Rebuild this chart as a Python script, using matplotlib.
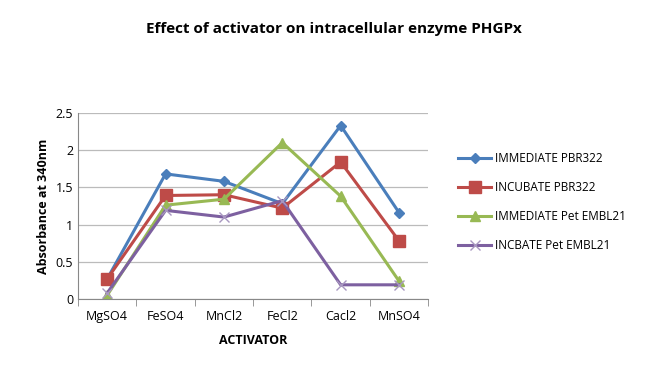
import numpy as np
import matplotlib
matplotlib.use("Agg")
import matplotlib.pyplot as plt

categories = ["MgSO4", "FeSO4", "MnCl2", "FeCl2", "Cacl2", "MnSO4"]
immediate_pbr = [0.27, 1.68, 1.58, 1.28, 2.33, 1.16]
incubate_pbr = [0.27, 1.39, 1.40, 1.22, 1.84, 0.78]
immediate_pet = [0.05, 1.26, 1.34, 2.10, 1.38, 0.24]
incbate_pet = [0.08, 1.19, 1.10, 1.32, 0.19, 0.19]

plt.rcParams['font.family'] = ['Open Sans', 'DejaVu Sans']

fig = plt.figure(figsize=(6.67, 3.7), dpi=100)
ax = fig.add_axes([0.117, 0.192, 0.525, 0.503])

x = np.arange(len(categories))
ax.plot(x, immediate_pbr, color="#4A7EBB", lw=2.2, marker="D", ms=5, label="IMMEDIATE PBR322")
ax.plot(x, incubate_pbr, color="#BE4B48", lw=2.2, marker="s", ms=8, label="INCUBATE PBR322")
ax.plot(x, immediate_pet, color="#98B954", lw=2.2, marker="^", ms=7, label="IMMEDIATE Pet EMBL21")
ax.plot(x, incbate_pet, color="#7D60A0", lw=2.2, marker="x", ms=7, mew=1, mec="#A897C0", label="INCBATE Pet EMBL21")

ax.set_xlim(-0.5, len(categories) - 0.5)
ax.set_ylim(0, 2.5)
ax.set_yticks([0, 0.5, 1, 1.5, 2, 2.5])
ax.set_yticklabels(["0", "0.5", "1", "1.5", "2", "2.5"])
ax.set_xticks(x)
ax.set_xticklabels(categories)
ax.set_xticks(np.arange(-0.5, len(categories)), minor=True)
ax.tick_params(axis="x", which="major", length=0, labelsize=9, pad=8)
ax.tick_params(axis="x", which="minor", length=5, color="#888888")
ax.tick_params(axis="y", length=0, labelsize=9)
ax.grid(axis="y", color="#BBBBBB", lw=0.9)
ax.set_axisbelow(True)
for s in ["top", "right"]:
    ax.spines[s].set_visible(False)
ax.spines["left"].set_color("#888888")
ax.spines["bottom"].set_color("#888888")

ax.set_ylabel("Absorbance at 340nm", fontsize=9, fontweight="bold")
ax.set_xlabel("ACTIVATOR", fontsize=9, fontweight="bold", labelpad=8)
fig.suptitle("Effect of activator on intracellular enzyme PHGPx", fontsize=11, fontweight="bold", y=0.94)

ax.legend(loc="center left", bbox_to_anchor=(1.055, 0.52), frameon=False, fontsize=8.5,
          handlelength=2.8, labelspacing=1.35, handletextpad=0.3)

fig.savefig("out.png", dpi=100)
